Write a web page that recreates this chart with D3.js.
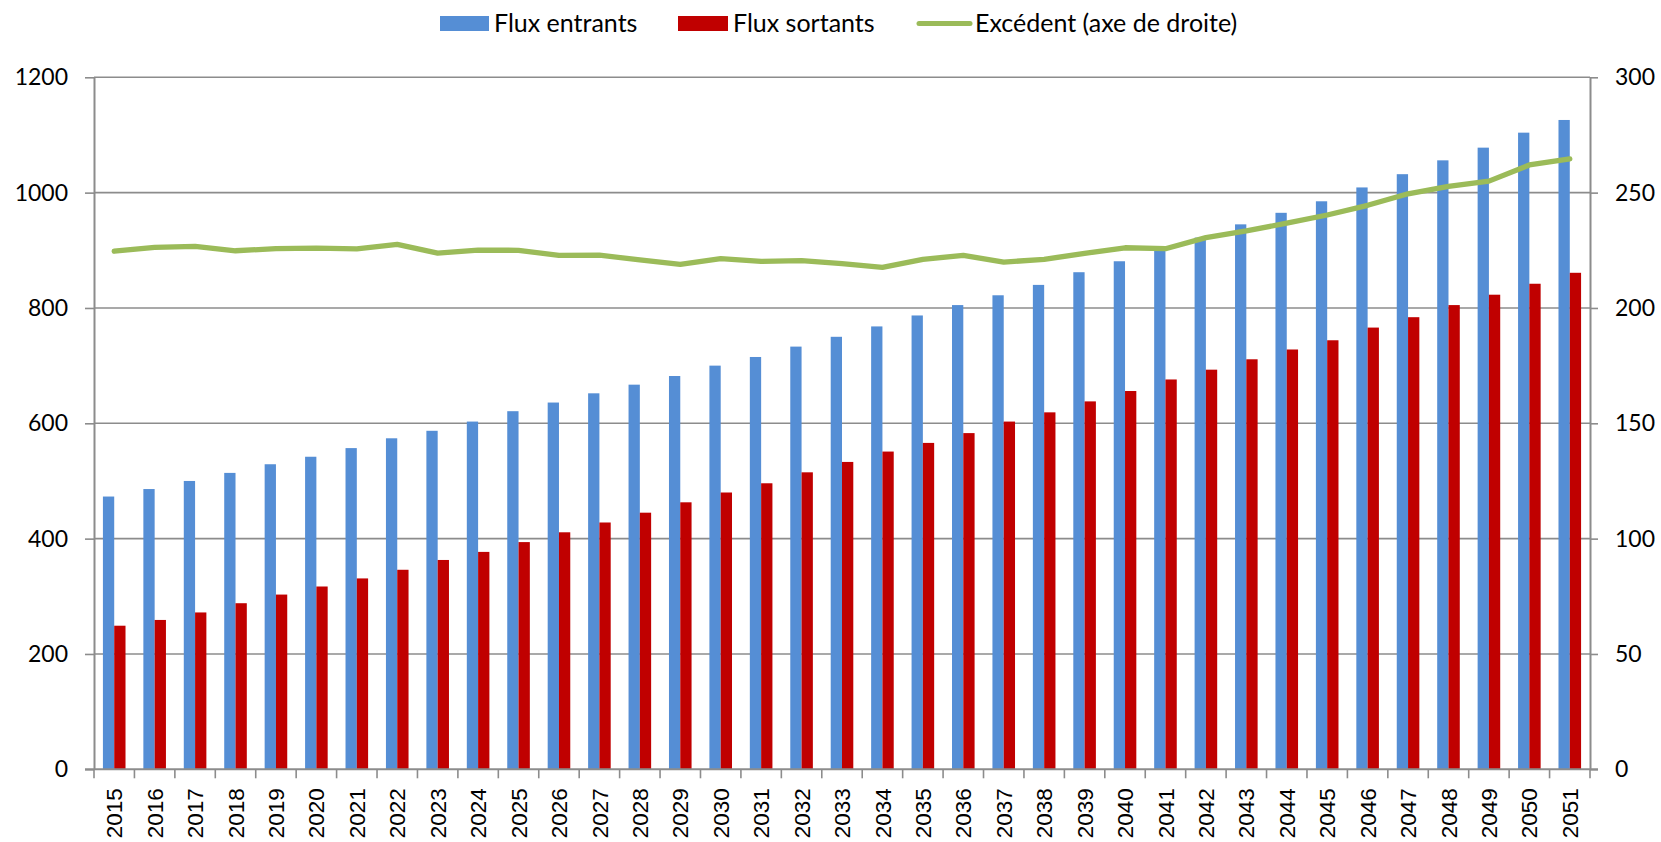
<!DOCTYPE html>
<html>
<head>
<meta charset="utf-8">
<script src="https://cdn.jsdelivr.net/npm/d3@7"></script>
<style>
  body { margin: 0; background: #fff; }
  svg { display: block; }
</style>
</head>
<body>
<script>
// categories and series
var years = [2015, 2016, 2017, 2018, 2019, 2020, 2021, 2022, 2023, 2024, 2025, 2026, 2027,
             2028, 2029, 2030, 2031, 2032, 2033, 2034, 2035, 2036, 2037, 2038, 2039, 2040,
             2041, 2042, 2043, 2044, 2045, 2046, 2047, 2048, 2049, 2050, 2051];
var fluxEntrants = [473, 486, 500, 514, 529, 542, 557, 574, 587, 603, 621, 636, 652,
                    667, 682, 700, 715, 733, 750, 768, 787, 805, 822, 840, 862, 881,
                    900, 922, 945, 965, 985, 1009, 1032, 1056, 1078, 1104, 1126];
var fluxSortants = [249, 259, 272, 288, 303, 317, 331, 346, 363, 377, 394, 411, 428,
                    445, 463, 480, 496, 515, 533, 551, 566, 583, 603, 619, 638, 656,
                    676, 693, 711, 728, 744, 766, 784, 805, 823, 842, 861];
var excedent = [224.6, 226.3, 226.7, 224.8, 225.7, 225.9, 225.6, 227.6, 223.8, 225.1, 225.0, 222.8, 222.9,
                220.8, 218.9, 221.4, 220.2, 220.5, 219.2, 217.6, 221.1, 222.8, 219.9, 221.1, 223.7, 226.1,
                225.7, 230.5, 233.4, 236.8, 240.3, 244.5, 249.5, 252.7, 255.0, 262.0, 264.6];
var leftTicks = [0, 200, 400, 600, 800, 1000, 1200];
var rightTicks = [0, 50, 100, 150, 200, 250, 300];
var seriesNames = ["Flux entrants", "Flux sortants", "Excédent (axe de droite)"];

var svgWidth = 1661;
var svgHeight = 842;
var plotLeft = 94, plotRight = 1590, plotTop = 77.3, plotBottom = 769.3;
var blue = "#558ED5", red = "#C00000", green = "#9BBB59", grid = "#8c8c8c";

var svg = d3.select("body").append("svg")
    .attr("width", svgWidth)
    .attr("height", svgHeight);

// scales
var xScale = d3.scaleBand()
    .domain(years)
    .range([plotLeft, plotRight])
    .paddingInner(0)
    .paddingOuter(0);
var xInner = d3.scaleBand()
    .domain(["in", "out"])
    .range([0, xScale.bandwidth()])
    .paddingInner(0)
    .paddingOuter(0.79);
var yLeft = d3.scaleLinear().domain([0, 1200]).range([plotBottom, plotTop]);
var yRight = d3.scaleLinear().domain([0, 300]).range([plotBottom, plotTop]);

// gridlines
svg.append("g").selectAll("line")
    .data(leftTicks.filter(function(d) { return d > 0; }))
    .enter().append("line")
    .attr("x1", plotLeft)
    .attr("x2", plotRight)
    .attr("y1", function(d) { return yLeft(d); })
    .attr("y2", function(d) { return yLeft(d); })
    .attr("stroke", grid)
    .attr("stroke-width", 1.6);

// bars
var groups = svg.append("g").selectAll("g")
    .data(years)
    .enter().append("g")
    .attr("transform", function(d) { return "translate(" + xScale(d) + ",0)"; });
groups.append("rect")
    .attr("x", xInner("in"))
    .attr("width", xInner.bandwidth())
    .attr("y", function(d, i) { return yLeft(fluxEntrants[i]); })
    .attr("height", function(d, i) { return plotBottom - yLeft(fluxEntrants[i]); })
    .attr("fill", blue);
groups.append("rect")
    .attr("x", xInner("out"))
    .attr("width", xInner.bandwidth())
    .attr("y", function(d, i) { return yLeft(fluxSortants[i]); })
    .attr("height", function(d, i) { return plotBottom - yLeft(fluxSortants[i]); })
    .attr("fill", red);

// line on the right axis
var line = d3.line()
    .x(function(d, i) { return xScale(years[i]) + xScale.bandwidth() / 2; })
    .y(function(d) { return yRight(d); });
svg.append("path")
    .datum(excedent)
    .attr("d", line)
    .attr("fill", "none")
    .attr("stroke", green)
    .attr("stroke-width", 5.3)
    .attr("stroke-linecap", "round")
    .attr("stroke-linejoin", "round");

// left axis
var yAxisLeft = d3.axisLeft(yLeft).tickValues(leftTicks).tickFormat(d3.format("d"))
    .tickSizeInner(9).tickSizeOuter(0).tickPadding(17);
var gL = svg.append("g")
    .attr("transform", "translate(" + plotLeft + ",0)")
    .call(yAxisLeft);
// right axis
var yAxisRight = d3.axisRight(yRight).tickValues(rightTicks).tickFormat(d3.format("d"))
    .tickSizeInner(8).tickSizeOuter(0).tickPadding(17);
var gR = svg.append("g")
    .attr("transform", "translate(" + plotRight + ",0)")
    .call(yAxisRight);
[gL, gR].forEach(function(g) {
    g.select(".domain").attr("stroke", grid).attr("stroke-width", 2);
    g.selectAll(".tick line").attr("stroke", grid).attr("stroke-width", 1.6);
    g.selectAll(".tick text")
        .attr("font-family", "Lato, 'DejaVu Sans', sans-serif")
        .attr("font-size", 23)
        .attr("fill", "#000");
});

// bottom axis: labels at centres, ticks at category boundaries
var xAxis = d3.axisBottom(xScale).tickSize(0).tickSizeOuter(0);
var gX = svg.append("g")
    .attr("transform", "translate(0," + plotBottom + ")")
    .call(xAxis);
gX.select(".domain").remove();
gX.selectAll(".tick text")
    .attr("font-family", "'Liberation Sans', Arial, sans-serif")
    .attr("font-size", 22.5)
    .attr("fill", "#000")
    .attr("x", -19)
    .attr("y", 0)
    .attr("dy", "0.36em")
    .attr("transform", "rotate(-90)")
    .style("text-anchor", "end");
var bounds = years.map(function(d) { return xScale(d); }).concat([plotRight]);
svg.append("g").selectAll("line")
    .data(bounds)
    .enter().append("line")
    .attr("x1", function(d) { return d; })
    .attr("x2", function(d) { return d; })
    .attr("y1", plotBottom)
    .attr("y2", plotBottom + 9)
    .attr("stroke", grid)
    .attr("stroke-width", 1.6);
svg.append("line")
    .attr("x1", plotLeft - 9)
    .attr("x2", plotRight + 8)
    .attr("y1", plotBottom)
    .attr("y2", plotBottom)
    .attr("stroke", grid)
    .attr("stroke-width", 2);

// legend
var legend = svg.append("g").attr("font-family", "Lato, 'DejaVu Sans', sans-serif").attr("font-size", 25);
legend.append("rect").attr("x", 440).attr("y", 16).attr("width", 49).attr("height", 15).attr("fill", blue);
legend.append("text").attr("x", 494).attr("y", 32).text(seriesNames[0]);
legend.append("rect").attr("x", 678).attr("y", 16).attr("width", 50).attr("height", 15).attr("fill", red);
legend.append("text").attr("x", 733).attr("y", 32).text(seriesNames[1]);
legend.append("line").attr("x1", 919).attr("x2", 970).attr("y1", 23.5).attr("y2", 23.5)
    .attr("stroke", green).attr("stroke-width", 5).attr("stroke-linecap", "round");
legend.append("text").attr("x", 975).attr("y", 32).text(seriesNames[2]);
</script>
</body>
</html>
